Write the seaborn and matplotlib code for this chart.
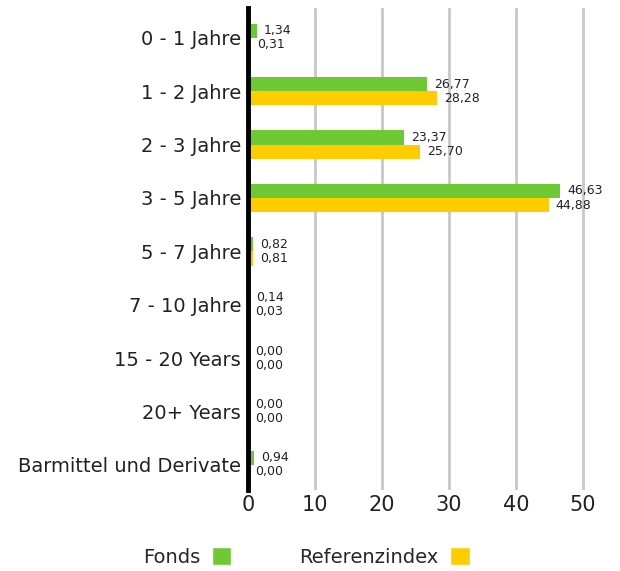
import pandas as pd
import matplotlib.pyplot as plt
import seaborn as sns
from matplotlib.patches import Patch

categories = ['0 - 1 Jahre', '1 - 2 Jahre', '2 - 3 Jahre', '3 - 5 Jahre', '5 - 7 Jahre',
              '7 - 10 Jahre', '15 - 20 Years', '20+ Years', 'Barmittel und Derivate']
fonds = [1.34, 26.77, 23.37, 46.63, 0.82, 0.14, 0.00, 0.00, 0.94]
referenz = [0.31, 28.28, 25.70, 44.88, 0.81, 0.03, 0.00, 0.00, 0.00]
series = ['Fonds', 'Referenzindex']
colors = ['#6fc934', '#ffcc00']

df = pd.DataFrame({
    'cat': categories * 2,
    'value': fonds + referenz,
    'series': [series[0]] * len(categories) + [series[1]] * len(categories),
})

sns.set_style('white')
plt.rcParams['font.family'] = ['DejaVu Sans']

fig = plt.figure(figsize=(6.2, 5.71), dpi=100)
ax = fig.add_axes([0.4, 0.142, 0.594, 0.844])

sns.barplot(data=df, y='cat', x='value', hue='series', orient='h',
            palette=colors, width=0.53, ax=ax, legend=False, saturation=1,
            linewidth=0)

ax.set_xlim(0, 55)
ax.set_ylim(8.47, -0.56)
ax.set_xticks([0, 10, 20, 30, 40, 50])
for x in [10, 20, 30, 40, 50]:
    ax.axvline(x, color='#c8c8c8', lw=2, zorder=0)

for s in ['top', 'right', 'bottom']:
    ax.spines[s].set_visible(False)
ax.spines['left'].set_color('black')
ax.spines['left'].set_linewidth(3.5)
ax.tick_params(axis='y', length=0, labelsize=14, colors='#222222', pad=5)
ax.tick_params(axis='x', length=0, labelsize=15, colors='#222222', pad=4)
ax.set_xlabel('')
ax.set_ylabel('')

for cont in ax.containers:
    labels = [f'{w:.2f}'.replace('.', ',') for w in cont.datavalues]
    ax.bar_label(cont, labels=labels, padding=5, fontsize=9, color='#222222')

handles = [Patch(facecolor=c, label=l) for c, l in zip(colors, series)]
fig.legend(handles=handles, loc='center', bbox_to_anchor=(0.494, 0.0245), ncol=2,
           markerfirst=False, frameon=False, fontsize=14, handlelength=1.0,
           handleheight=1.0, columnspacing=3.5, handletextpad=0.6,
           borderaxespad=0, borderpad=0)

fig.savefig('out.png', dpi=100)
